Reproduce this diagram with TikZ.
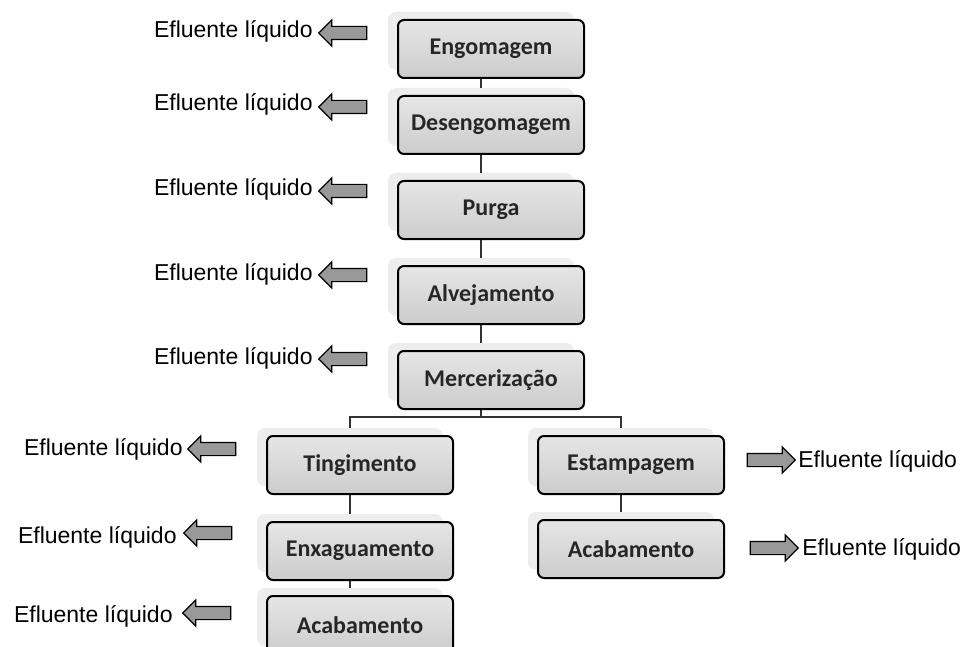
\documentclass[tikz,border=0pt]{standalone}
\usepackage{fontspec}
\setmainfont{Liberation Sans}
\newfontfamily\boxfont{Carlito}
\usetikzlibrary{shapes.arrows,positioning}

\tikzset{
  glow/.style={fill=black!7, rounded corners=4pt, minimum width=93pt, minimum height=29pt},
  stepbox/.style={draw=black, line width=1pt, rounded corners=3pt,
    top color=black!10, bottom color=black!20,
    minimum width=93pt, minimum height=29pt, inner sep=2pt,
    font=\boxfont\bfseries\fontsize{12}{14}\selectfont, text=black!85},
  link/.style={draw=black!80, line width=1pt},
  outflow/.style={single arrow, draw=black, line width=0.6pt, fill=black!40,
    minimum height=24pt, single arrow head extend=3.25pt,
    inner xsep=0pt, inner ysep=3pt},
  efluente/.style={inner sep=0pt, font=\fontsize{11.5}{13}\selectfont}
}

\begin{document}
\begin{tikzpicture}[x=0.5pt, y=-0.5pt]
  \clip (0,0) rectangle (970,647);
  \fill[white] (0,0) rectangle (970,647);

  % glow behind the steps
  \foreach \m/\x/\y in {1/491/49, 2/491/125, 3/491/210, 4/491/295, 5/491/380,
                        6/360/465, 7/360/551, 8/360/625, 9/631/465, 10/631/549}
  \node [glow] (glow-\m) at (\x-10, \y-8) {};

  % connectors
  \foreach \i/\j in {1/2, 2/3, 3/4, 4/5, 6/7, 7/8, 9/10}
  \draw [link] (glow-\i) -- (glow-\j);

  \coordinate (fork) at (481,417);
  \draw [link] (glow-5) -- (fork);
  \draw [link] (fork) -| (glow-6);
  \draw [link] (fork) -| (glow-9);

  % process steps
  \foreach \m/\x/\y/\t in {1/491/49/Engomagem, 2/491/125/Desengomagem, 3/491/210/Purga,
                           4/491/295/Alvejamento, 5/491/380/Mercerização,
                           6/360/465/Tingimento, 7/360/551/Enxaguamento, 8/360/625/Acabamento,
                           9/631/465/Estampagem, 10/631/549/Acabamento}
  \node [stepbox] (step-\m) at (\x, \y) {\t};

  % liquid effluent, left side
  \foreach \m/\ax/\ay/\lx/\ly in {1/346/33/313/38, 2/346/107/313/111, 3/346/191/313/196,
                                  4/346/275/313/280, 5/346/359/313/364,
                                  6/215/449/183/455, 7/211/533/177/543, 8/210/613/173/622}
  {
    \node [outflow, shape border rotate=180] (out-\m) at (\ax, \ay) {};
    \node [efluente, anchor=base east] (label-\m) at (\lx, \ly) {Efluente líquido};
  }

  % liquid effluent, right side
  \foreach \m/\ax/\ay/\lx/\ly in {9/768/460/798/467, 10/771/548/802/555}
  {
    \node [outflow] (out-\m) at (\ax, \ay) {};
    \node [efluente, anchor=base west] (label-\m) at (\lx, \ly) {Efluente líquido};
  }

\end{tikzpicture}
\end{document}
